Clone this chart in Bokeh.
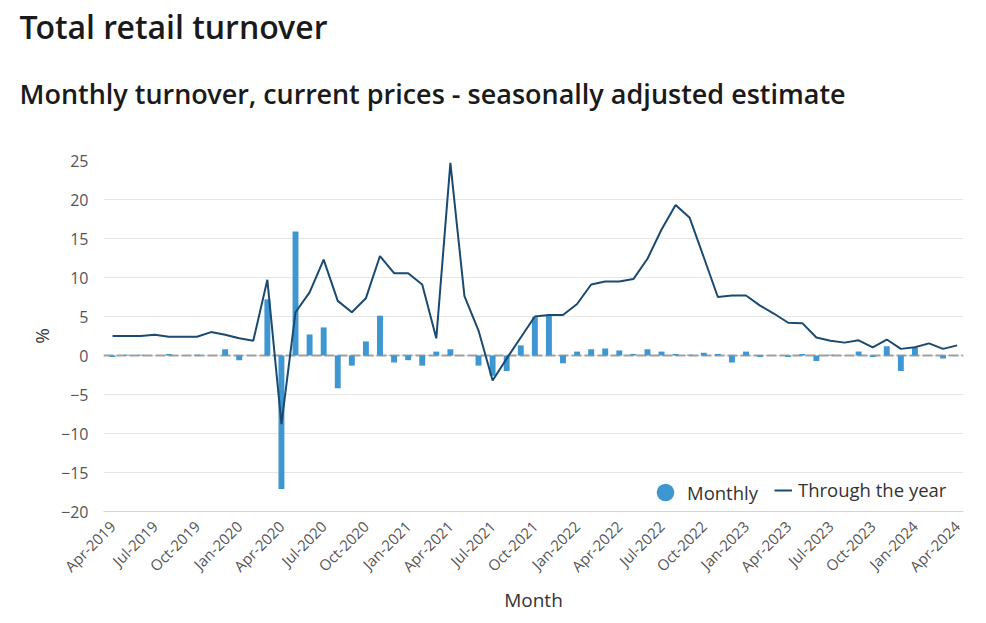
import pandas as pd
from bokeh.plotting import figure
from bokeh.models import (ColumnDataSource, FixedTicker, Span, Legend, LegendItem, Title)
from bokeh.embed import file_html
from bokeh.resources import INLINE
import math

# ---------------- data ----------------
months = [d.strftime("%b-%Y") for d in pd.date_range("2019-04-01", "2024-04-01", freq="MS")]

monthly = [-0.2, 0.1, 0.1, 0.0, 0.2, 0.0, 0.1, 0.0, 0.8, -0.6,
           0.0, 7.2, -17.1, 15.9, 2.7, 3.6, -4.2, -1.3, 1.8, 5.1,
           -0.9, -0.6, -1.3, 0.5, 0.8, 0.0, -1.3, -2.6, -2.0, 1.3,
           4.9, 5.1, -1.0, 0.5, 0.8, 0.9, 0.65, 0.2, 0.8, 0.5,
           0.2, 0.1, 0.35, 0.2, -0.9, 0.5, -0.2, 0.0, -0.2, 0.2,
           -0.7, 0.1, 0.0, 0.5, -0.2, 1.2, -2.0, 1.0, 0.0, -0.4,
           0.0]

through_year = [2.5, 2.5, 2.5, 2.65, 2.4, 2.4, 2.4, 3.0, 2.65, 2.2,
                1.9, 9.7, -8.8, 5.55, 8.1, 12.3, 7.0, 5.55, 7.35, 12.75,
                10.55, 10.55, 9.1, 2.2, 24.7, 7.6, 3.2, -3.2, -0.4, 2.3,
                5.0, 5.2, 5.2, 6.6, 9.1, 9.5, 9.5, 9.8, 12.4, 16.15,
                19.3, 17.65, 12.6, 7.5, 7.7, 7.7, 6.4, 5.35, 4.2, 4.15,
                2.3, 1.9, 1.65, 1.95, 1.05, 2.05, 0.85, 1.05, 1.55, 0.85,
                1.3]

tick_labels = ["Apr-2019", "Jul-2019", "Oct-2019", "Jan-2020", "Apr-2020", "Jul-2020",
               "Oct-2020", "Jan-2021", "Apr-2021", "Jul-2021", "Oct-2021", "Jan-2022",
               "Apr-2022", "Jul-2022", "Oct-2022", "Jan-2023", "Apr-2023", "Jul-2023",
               "Oct-2023", "Jan-2024", "Apr-2024"]

y_ticks = [-20, -15, -10, -5, 0, 5, 10, 15, 20, 25]

title_text = "Total retail turnover"
subtitle_text = "Monthly turnover, current prices - seasonally adjusted estimate"

# ---------------- style ----------------
BAR = "#3e97d1"
LINE = "#1b4a70"
FONT = "Open Sans"
TITLE_FONT = "Open Sans SemiBold, Open Sans"

src = ColumnDataSource(dict(x=list(range(len(months))), month=months,
                            monthly=monthly, through=through_year))

W, H = 978, 615
p = figure(width=W, height=H, output_backend="svg", toolbar_location=None,
           title=None, x_range=(-0.64, 60.45), y_range=(-20, 25),
           min_border_left=103, min_border_right=15, min_border_top=160,
           min_border_bottom=104)
p.outline_line_color = None
p.background_fill_color = "white"
p.border_fill_color = "white"

# titles (the first added sits closest to the plot)
p.add_layout(Title(text=subtitle_text, align="left", offset=-84, standoff=93,
                   vertical_align="top", text_font=TITLE_FONT, text_font_size="27px",
                   text_font_style="normal", text_color="#1a1a1a"), "above")
p.add_layout(Title(text=title_text, align="left", offset=-84, standoff=-38,
                   vertical_align="bottom", text_font=TITLE_FONT, text_font_size="32px",
                   text_font_style="normal", text_color="#1a1a1a"), "above")

# axes
tick_pos = [months.index(t) for t in tick_labels]
p.xaxis.ticker = FixedTicker(ticks=tick_pos)
p.xaxis.major_label_overrides = {i: t for i, t in zip(tick_pos, tick_labels)}
p.xaxis.major_label_orientation = math.pi / 4
p.xaxis.major_label_text_font = FONT
p.xaxis.major_label_text_font_size = "15px"
p.xaxis.major_label_text_color = "#555555"
p.xaxis.major_tick_line_color = None
p.xaxis.major_tick_out = 0
p.xaxis.major_tick_in = 0
p.xaxis.minor_tick_line_color = None
p.xaxis.axis_line_color = "#ccd6eb"
p.xaxis.major_label_standoff = 12
p.xaxis.axis_label = "Month"
p.xaxis.axis_label_text_font = FONT
p.xaxis.axis_label_text_font_size = "19px"
p.xaxis.axis_label_text_font_style = "normal"
p.xaxis.axis_label_text_color = "#333333"
p.xaxis.axis_label_standoff = 1

p.yaxis.ticker = FixedTicker(ticks=y_ticks)
p.yaxis.major_label_text_font = FONT
p.yaxis.major_label_text_font_size = "16px"
p.yaxis.major_label_text_color = "#555555"
p.yaxis.major_tick_line_color = None
p.yaxis.major_tick_out = 0
p.yaxis.major_tick_in = 0
p.yaxis.minor_tick_line_color = None
p.yaxis.axis_line_color = None
p.yaxis.major_label_standoff = 15
p.yaxis.axis_label = "%"
p.yaxis.axis_label_text_font = FONT
p.yaxis.axis_label_text_font_size = "19px"
p.yaxis.axis_label_text_font_style = "normal"
p.yaxis.axis_label_text_color = "#333333"
p.yaxis.axis_label_standoff = 3

p.xgrid.grid_line_color = None
p.ygrid.ticker = FixedTicker(ticks=y_ticks)
p.ygrid.grid_line_color = "#e6e6e6"
p.ygrid.grid_line_width = 1

zero = Span(location=0, dimension="width", line_color="#a0a0a0", line_width=2,
            line_dash="10 3", level="underlay")
p.add_layout(zero)

# glyphs
r_bar = p.vbar(x="x", top="monthly", width=0.42, source=src, fill_color=BAR,
               line_color=None)
r_line = p.line(x="x", y="through", source=src, line_color=LINE, line_width=2)
# legend swatch for the bars (zero-size markers, only the legend shows a dot)
r_dot = p.scatter(x="x", y="monthly", source=src, marker="circle", size=0,
                  fill_color=BAR, line_color=None)

leg1 = Legend(items=[LegendItem(label="Monthly", renderers=[r_dot])],
              location=(540, -3))
leg2 = Legend(items=[LegendItem(label="Through the year", renderers=[r_line])],
              location=(671, 9))
for lg in (leg1, leg2):
    lg.label_text_font = FONT
    lg.label_text_font_size = "18.5px"
    lg.label_text_color = "#333333"
    lg.background_fill_alpha = 0
    lg.border_line_color = None
    lg.padding = 0
    lg.margin = 0
    lg.label_height = 20
leg1.glyph_width = 44
leg1.glyph_height = 44
leg1.label_standoff = 0
leg2.glyph_width = 18
leg2.glyph_height = 20
leg2.label_standoff = 6
p.add_layout(leg1)
p.add_layout(leg2)

open("out.html", "w").write(file_html(p, INLINE))
